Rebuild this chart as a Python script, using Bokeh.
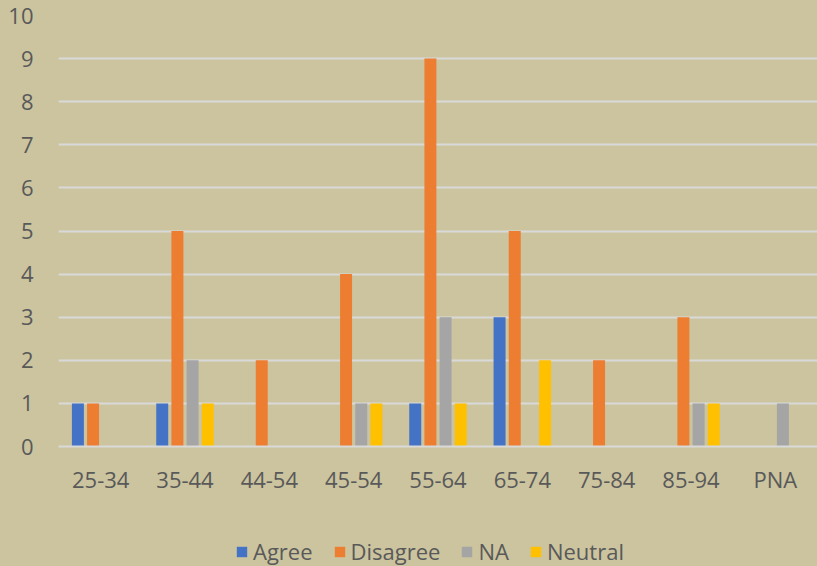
from bokeh.plotting import figure
from bokeh.models import ColumnDataSource, Legend, LegendItem, FactorRange
from bokeh.layouts import column
from bokeh.transform import dodge
from bokeh.embed import file_html
from bokeh.resources import INLINE

categories = ["25-34", "35-44", "44-54", "45-54", "55-64", "65-74", "75-84", "85-94", "PNA"]
agree = [1, 1, 0, 0, 1, 3, 0, 0, 0]
disagree = [1, 5, 2, 4, 9, 5, 2, 3, 0]
na = [0, 2, 0, 1, 3, 0, 0, 1, 1]
neutral = [0, 1, 0, 1, 1, 2, 0, 1, 0]
series_names = ["Agree", "Disagree", "NA", "Neutral"]
colors = ["#4472C4", "#ED7D31", "#A5A5A5", "#FFC000"]

BG = "#CBC49F"
TXT = "#595959"
FONT = "Open Sans"
FS = "22px"

src = ColumnDataSource(dict(cat=categories, Agree=agree, Disagree=disagree, NA=na, Neutral=neutral))

p = figure(width=817, height=516, x_range=FactorRange(*categories, range_padding=0),
           y_range=(0, 10), output_backend="svg", toolbar_location=None,
           background_fill_color=BG, border_fill_color=BG, outline_line_color=None,
           min_border_left=58, min_border_right=0, min_border_top=15, min_border_bottom=70)

offsets = [-0.27, -0.09, 0.09, 0.27]
for name, col, off in zip(series_names, colors, offsets):
    p.vbar(x=dodge("cat", off, range=p.x_range), top=name, width=0.142, source=src,
           fill_color=col, line_color=None)

p.xgrid.grid_line_color = None
p.ygrid.grid_line_color = "#D9D9D9"
p.ygrid.grid_line_width = 2
p.yaxis.ticker = list(range(0, 11))
for ax in (p.xaxis, p.yaxis):
    ax.axis_line_color = None
    ax.major_tick_line_color = None
    ax.minor_tick_line_color = None
    ax.major_label_text_font = FONT
    ax.major_label_text_font_size = FS
    ax.major_label_text_color = TXT
p.xaxis.axis_line_color = "#D9D9D9"
p.xaxis.axis_line_width = 2
p.yaxis.major_label_standoff = 19
p.xaxis.major_label_standoff = 11

# legend strip below the chart
p2 = figure(width=817, height=50, x_range=(0, 1), y_range=(0, 1), output_backend="svg",
            toolbar_location=None, background_fill_color=BG, border_fill_color=BG,
            outline_line_color=None, min_border=0)
p2.axis.visible = False
p2.grid.visible = False
items = []
for name, col in zip(series_names, colors):
    r = p2.vbar(x=[5], top=[-5], width=0.1, fill_color=col, line_color=None)
    items.append(LegendItem(label=name, renderers=[r]))
legend = Legend(items=items, orientation="horizontal", location=(177, 0),
                background_fill_alpha=0, border_line_color=None,
                label_text_font=FONT, label_text_font_size=FS, label_text_color=TXT,
                glyph_width=13, glyph_height=13, label_standoff=5, spacing=20,
                margin=0, padding=0)
p2.add_layout(legend, "center")

layout = column(p, p2, spacing=0, styles={"background-color": BG})
open("out.html", "w").write(file_html(layout, INLINE))
